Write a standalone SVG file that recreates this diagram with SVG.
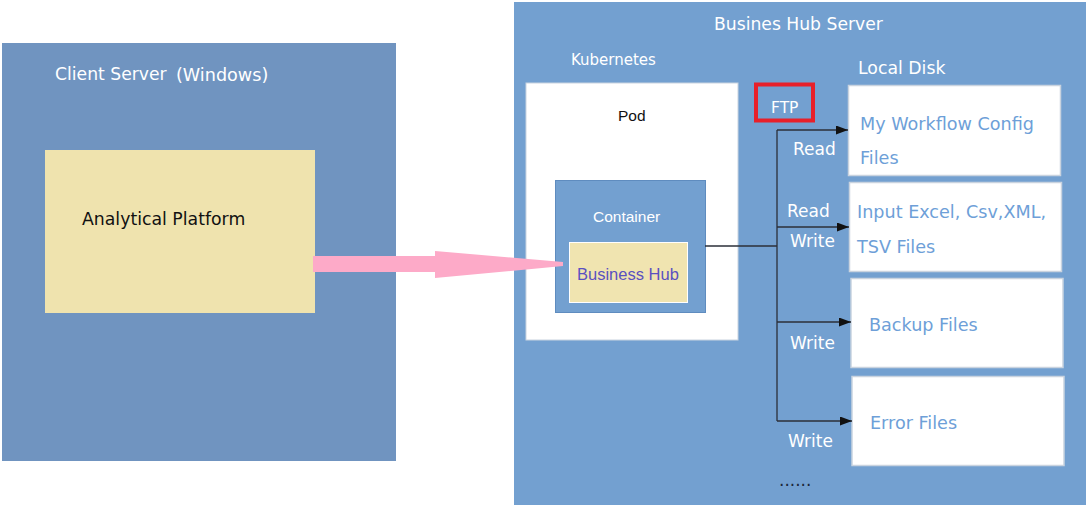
<svg xmlns="http://www.w3.org/2000/svg" width="1088" height="508" viewBox="0 0 1088 508">
<defs>
<marker id="ah" markerWidth="12" markerHeight="9" refX="12" refY="4.5" orient="auto" markerUnits="userSpaceOnUse">
<path d="M0,0 L12,4.5 L0,9 Z" fill="#111"/>
</marker>
<style>
.t{font-family:"DejaVu Sans",Verdana,sans-serif;}
.a{font-family:"Liberation Sans",Arial,sans-serif;}
.w{fill:#ffffff;}
.disk{fill:#ffffff;stroke:#c9d3df;stroke-width:1.5;}
.dt{fill:#6e9fd8;font-size:17.6px;}
.lbl{fill:#ffffff;font-size:17px;}
.conn{fill:none;stroke:#2b2f38;stroke-width:1.3;}
</style>
</defs>
<rect width="1088" height="508" fill="#ffffff"/>

<g id="client-server">
<rect x="2" y="43" width="394" height="418" fill="#7094c0"/>
<text class="t w" x="55" y="80" font-size="17.2">Client Server</text>
<text class="t w" x="176" y="81" font-size="17.6">(Windows)</text>
</g>

<g id="analytical-platform">
<rect x="45" y="150" width="270" height="163" fill="#efe3ae"/>
<text class="t" x="82" y="225" font-size="17.3" fill="#111">Analytical Platform</text>
</g>

<g id="hub-server">
<rect x="514" y="2" width="572" height="503" fill="#73a0d0"/>
<text class="t w" x="714" y="30" font-size="17.2">Busines Hub Server</text>
<text class="t w" x="571" y="65" font-size="15">Kubernetes</text>
<text class="t w" x="858" y="74" font-size="17.3">Local Disk</text>
</g>

<g id="pod">
<rect x="526" y="83" width="212" height="257" fill="#ffffff" stroke="#c9d3df" stroke-width="1"/>
<text class="a" x="618" y="121" font-size="15.5" fill="#111">Pod</text>
</g>

<g id="container">
<rect x="555.5" y="180.5" width="150" height="132" fill="#73a0d0" stroke="#5f8cbf" stroke-width="1"/>
<text class="a w" x="593" y="222" font-size="15.5">Container</text>
</g>

<g id="business-hub">
<rect x="569.5" y="242.5" width="118" height="60" fill="#f0e4b0" stroke="#ffffff" stroke-width="1"/>
<text class="a" x="577" y="280" font-size="16.5" fill="#5a50c0">Business Hub</text>
</g>

<g id="ftp">
<rect x="756" y="84.5" width="57" height="36" fill="none" stroke="#e8202a" stroke-width="4"/>
<text class="t w" x="771" y="113" font-size="15.5">FTP</text>
</g>

<g id="config-files">
<rect class="disk" x="848.5" y="85.5" width="212" height="90"/>
<text class="t dt" x="860" y="130">My Workflow Config</text>
<text class="t dt" x="860" y="164">Files</text>
</g>

<g id="input-files">
<rect class="disk" x="849.5" y="182.5" width="212" height="89"/>
<text class="t dt" x="857" y="218">Input Excel, Csv,XML,</text>
<text class="t dt" x="857" y="253">TSV Files</text>
</g>

<g id="backup-files">
<rect class="disk" x="851" y="278.5" width="212" height="89"/>
<text class="t dt" x="869" y="331">Backup Files</text>
</g>

<g id="error-files">
<rect class="disk" x="852" y="376.5" width="212" height="89"/>
<text class="t dt" x="870" y="429">Error Files</text>
</g>

<g id="connectors">
<path d="M313,256 L435,256 L435,251 L563,262 L563,266 L435,278 L435,272 L313,272 Z" fill="#fdaac8"/>
<path class="conn" d="M705,246 H777"/>
<path class="conn" d="M777,130 V421"/>
<path class="conn" d="M777,130 H848" marker-end="url(#ah)"/>
<path class="conn" d="M777,227 H849" marker-end="url(#ah)"/>
<path class="conn" d="M777,322 H851" marker-end="url(#ah)"/>
<path class="conn" d="M777,421 H852" marker-end="url(#ah)"/>
<text class="t lbl" x="793" y="155">Read</text>
<text class="t lbl" x="787" y="217">Read</text>
<text class="t lbl" x="790" y="247">Write</text>
<text class="t lbl" x="790" y="349">Write</text>
<text class="t lbl" x="788" y="447">Write</text>
<text class="t" x="779" y="486" font-size="17" fill="#1c2638">......</text>
</g>
</svg>
